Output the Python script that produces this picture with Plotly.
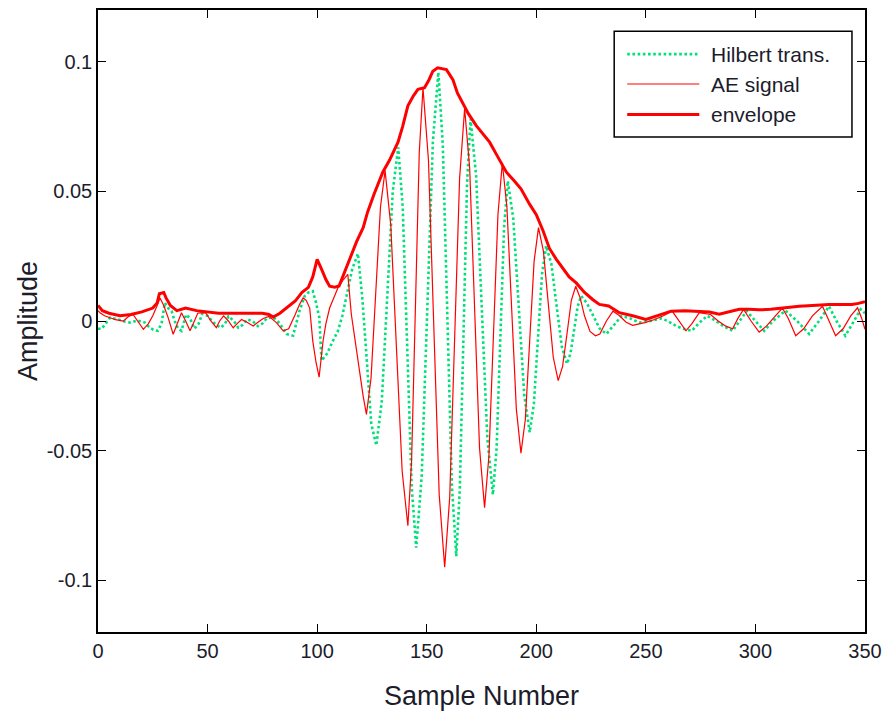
import plotly.graph_objects as go

# ---------------- data ----------------
ae_n = [0, 0.9, 3, 5.5, 8, 11.6, 14, 16, 18, 20.7, 23, 25, 27, 28.3, 30, 32, 34.3, 36, 38.1, 40,
        42, 44, 45.5, 47.5, 49.3, 51.5, 54, 55.5, 57.3, 59.5, 61.7, 63.5, 65.5, 68, 70.8, 73, 75.4,
        78, 81.4, 84.5, 87, 90, 92, 93.6, 95, 96.6, 98, 99.5, 100.9, 102.7, 104, 105.7, 107.5,
        109.5, 112, 114, 115.6, 117.5, 119.4, 121, 122.5, 124.6, 126.75, 128.9, 131, 133.6, 136.2,
        138.8, 141.4, 143.1, 144.85, 146.6, 148.3, 150.8, 153.25, 155.7, 158.2, 160.5, 162.75, 165,
        167.3, 169.6, 171.85, 174.1, 176.4, 178.4, 180.45, 182.5, 184.5, 186.6, 188.75, 190.9, 193,
        195, 197, 199, 201, 203.25, 205.5, 207.75, 210, 212, 214, 216, 218, 220, 222, 224.5, 227,
        229, 232, 235, 238, 241, 244, 249.5, 254, 258, 262, 265, 268.3, 271, 274.4, 279.5, 283,
        286.5, 289.6, 292, 294.6, 298, 301.7, 305, 309, 312.3, 315, 318.4, 322, 326, 330.6, 333.5,
        336.6, 340, 343.5, 346.6, 348.5, 350]
ae_val = [0.004, 0.0032, 0.002, 0.0013, 0.0005, 0.0, 0.0018, 0.0025, 0.0, -0.0032, -0.001, 0.002,
          0.006, 0.0089, 0.006, 0.0013, -0.0051, -0.001, 0.0032, 0.0, -0.0038, 0.0, 0.003, 0.0032,
          0.003, 0.0, -0.0026, 0.0, 0.002, 0.0, -0.0026, -0.001, 0.0006, -0.0005, -0.0019, -0.0005,
          0.001, 0.0018, -0.0006, -0.0038, -0.003, 0.0025, 0.0065, 0.0089, 0.008, 0.005, -0.0077,
          -0.016, -0.0217, -0.0077, -0.001, 0.005, 0.009, 0.0128, 0.016, 0.018, 0.0026, -0.009,
          -0.019, -0.029, -0.036, -0.022, 0.011, 0.044, 0.058, 0.037, -0.0105, -0.058, -0.079,
          -0.054, 0.0055, 0.065, 0.090, 0.062, -0.0025, -0.067, -0.095, -0.068, -0.0065, 0.055,
          0.082, 0.059, 0.005, -0.049, -0.072, -0.052, -0.0055, 0.041, 0.061, 0.044, 0.005, -0.034,
          -0.051, -0.038, -0.0075, 0.023, 0.036, 0.027, 0.0065, -0.014, -0.023, -0.0175, -0.005,
          0.008, 0.0134, 0.009, 0.002, -0.004, -0.0057, -0.005, 0.0, 0.0038, 0.002, -0.0005,
          -0.0017, -0.0006, 0.0006, 0.002, 0.0038, 0.0, -0.0038, -0.001, 0.0032, 0.0025, 0.0,
          -0.002, -0.003, 0.001, 0.0045, 0.0, -0.0043, -0.002, 0.002, 0.005, 0.001, -0.0057,
          -0.003, 0.002, 0.0057, 0.0, -0.0057, -0.003, 0.002, 0.0051, 0.001, -0.0032]

hil_n = [0, 1.7, 3.5, 5.5, 9.3, 12, 14.6, 18, 21.4, 23.5, 25.5, 27.3, 29, 30.5, 32, 33.6, 35, 36.6,
         38.1, 40.2, 42, 44, 46, 47.5, 50, 52, 54, 56, 58, 59.5, 62, 64, 66, 68, 70.5, 73, 75, 77,
         80, 83, 86, 89, 92, 94.3, 96, 98, 99.5, 101, 102, 104.6, 107, 109.5, 111.5, 113.3, 116,
         118.6, 120.5, 121.7, 123, 124.7, 127, 129.5, 132, 134.5, 137, 139.05, 141.1, 143.15,
         145.2, 147.7, 150.25, 152.8, 155.3, 157.35, 159.4, 161.45, 163.5, 165.1, 166.75, 168.4,
         170, 172.55, 175.1, 177.65, 180.2, 181.9, 183.6, 185.3, 187, 189.5, 192, 194.5, 197,
         198.9, 200.75, 202.6, 204.5, 206.9, 209.25, 211.6, 214, 215.6, 217.25, 218.9, 220.5, 223,
         226, 229, 232, 235, 239, 243, 247, 252, 257, 260, 264, 267, 271, 274, 278, 282, 285.5,
         289.6, 293, 296, 300, 304, 308, 313.7, 319, 324.5, 329, 333.6, 337, 341, 345, 348, 350]
hil_val = [-0.003, -0.003, -0.001, 0.0013, 0.0006, -0.0002, -0.0006, 0.0002, -0.0006, -0.0025,
           -0.0035, -0.0038, -0.001, 0.007, 0.005, 0.0038, 0.0, -0.003, -0.0038, 0.0025, 0.001,
           -0.003, -0.001, 0.0028, 0.002, 0.0, -0.0015, -0.0026, -0.001, 0.0018, 0.0, -0.0026,
           -0.0015, 0.0006, 0.0, -0.002, -0.001, 0.001, 0.0015, -0.001, -0.005, -0.0057, 0.004,
           0.0096, 0.011, 0.0115, 0.007, 0.0013, -0.0153, -0.0125, -0.008, -0.0038, 0.002, 0.0089,
           0.02, 0.026, 0.01, -0.0038, -0.02, -0.0396, -0.048, -0.031, 0.0095, 0.05, 0.067, 0.044,
           -0.010, -0.064, -0.0875, -0.060, 0.004, 0.069, 0.096, 0.068, 0.0027, -0.063, -0.0907,
           -0.065, -0.0064, 0.053, 0.078, 0.056, 0.0055, -0.045, -0.067, -0.049, -0.0065, 0.036,
           0.054, 0.0395, 0.0055, -0.0285, -0.043, -0.032, -0.007, 0.018, 0.029, 0.022, 0.006,
           -0.0097, -0.0165, -0.0126, -0.0035, 0.0057, 0.0096, 0.007, 0.002, -0.003, -0.005,
           -0.002, 0.002, 0.001, -0.0006, 0.0, 0.001, 0.0, -0.002, -0.003, -0.0038, -0.001, 0.002,
           0.0, -0.002, -0.0038, 0.0, 0.0038, 0.0, -0.0038, 0.0, 0.004, 0.0, -0.005, 0.0, 0.0057,
           0.0, -0.0057, 0.0, 0.0045, 0.003]

env_n = [0, 2, 5, 10, 15, 20, 25, 27, 28, 30, 31, 33, 36, 40, 45, 50, 55, 60, 65, 70, 75, 78, 80,
         83, 86, 90, 93, 96, 98, 100, 102, 104, 105.7, 108, 110, 113.3, 116, 118, 121, 123, 126,
         130, 133, 136.9, 139, 141.4, 144, 146, 149, 151, 152.8, 155, 159, 162, 164, 166.5, 169,
         172.6, 176, 178.7, 182, 186.3, 190, 193, 197, 200, 203, 206, 209, 212, 215, 218.2, 222,
         225.7, 228.8, 233, 237.9, 244, 250, 255, 261.5, 268, 274, 279, 283.5, 288, 292.6, 297,
         301.7, 307, 312.3, 320, 326, 333.6, 340, 344, 347, 350]
env_val = [0.006, 0.004, 0.003, 0.002, 0.0025, 0.0035, 0.005, 0.007, 0.0105, 0.011, 0.009, 0.006,
           0.004, 0.005, 0.004, 0.0035, 0.003, 0.003, 0.003, 0.003, 0.003, 0.0025, 0.0015, 0.003,
           0.005, 0.0077, 0.011, 0.013, 0.017, 0.0238, 0.02, 0.016, 0.0134, 0.013, 0.0135, 0.0204,
           0.026, 0.0306, 0.036, 0.042, 0.049, 0.0575, 0.062, 0.069, 0.075, 0.083, 0.087, 0.0894,
           0.090, 0.093, 0.0964, 0.0977, 0.097, 0.093, 0.088, 0.084, 0.080, 0.0754, 0.072, 0.069,
           0.064, 0.0575, 0.054, 0.051, 0.045, 0.041, 0.035, 0.028, 0.024, 0.0204, 0.017, 0.0147,
           0.011, 0.0083, 0.0064, 0.0058, 0.0032, 0.002, 0.0006, 0.002, 0.0038, 0.004, 0.0038,
           0.0035, 0.0026, 0.0035, 0.0045, 0.0045, 0.0043, 0.0045, 0.0051, 0.0057, 0.006, 0.0064,
           0.0064, 0.0064, 0.0068, 0.0074]

series_names = ["Hilbert trans.", "AE signal", "envelope"]
x_ticks = [0, 50, 100, 150, 200, 250, 300, 350]
y_ticks = [0.1, 0.05, 0, -0.05, -0.1]
y_tick_labels = ["0.1", "0.05", "0", "-0.05", "-0.1"]

# ---------------- styles ----------------
GREEN = "#00e07a"
RED = "#ff0000"
TXT = "#1c1c2c"
FONT = "Liberation Sans, Arial, sans-serif"

fig = go.Figure()
fig.add_trace(go.Scatter(x=hil_n, y=hil_val, mode="lines", name=series_names[0],
                         line=dict(color=GREEN, width=2.6, dash="2.6px,2.6px"), showlegend=False))
fig.add_trace(go.Scatter(x=ae_n, y=ae_val, mode="lines", name=series_names[1],
                         line=dict(color=RED, width=1.2), showlegend=False))
fig.add_trace(go.Scatter(x=env_n, y=env_val, mode="lines", name=series_names[2],
                         line=dict(color=RED, width=3), showlegend=False))

axis_common = dict(showline=True, linecolor="#000", linewidth=1.5, mirror="ticks",
                   ticks="inside", ticklen=8, tickwidth=1.2, tickcolor="#000",
                   showgrid=False, zeroline=False,
                   tickfont=dict(family=FONT, size=20, color=TXT))

fig.update_xaxes(range=[0, 350], tickvals=x_ticks,
                 title=dict(text="Sample Number", font=dict(family=FONT, size=27, color=TXT),
                            standoff=25),
                 **axis_common)
fig.update_yaxes(range=[-0.12, 0.12], tickvals=y_ticks, ticktext=y_tick_labels,
                 title=dict(text="Amplitude", font=dict(family=FONT, size=27, color=TXT),
                            standoff=1),
                 **axis_common)

# custom legend (MATLAB style) in paper coordinates
lx0, lx1, ly0, ly1 = 0.673, 0.983, 0.796, 0.966
shapes = [dict(type="rect", xref="paper", yref="paper", x0=lx0, x1=lx1, y0=ly0, y1=ly1,
               line=dict(color="#000", width=1.5), fillcolor="white", layer="above")]
entry_y = [0.929, 0.881, 0.832]
entry_styles = [dict(color=GREEN, width=2.6, dash="2.6px,2.6px"),
                dict(color=RED, width=1.2),
                dict(color=RED, width=3)]
annotations = []
for name, yy, st in zip(series_names, entry_y, entry_styles):
    shapes.append(dict(type="line", xref="paper", yref="paper", x0=0.690, x1=0.784,
                       y0=yy, y1=yy, line=st, layer="above"))
    annotations.append(dict(xref="paper", yref="paper", x=0.797, y=yy, text=name,
                            showarrow=False, xanchor="left", yanchor="middle",
                            font=dict(family=FONT, size=21, color=TXT)))

fig.update_layout(width=890, height=719, margin=dict(l=98, r=24, t=8, b=87),
                  paper_bgcolor="white", plot_bgcolor="white",
                  shapes=shapes, annotations=annotations, showlegend=False)

fig.write_html("out.html")
